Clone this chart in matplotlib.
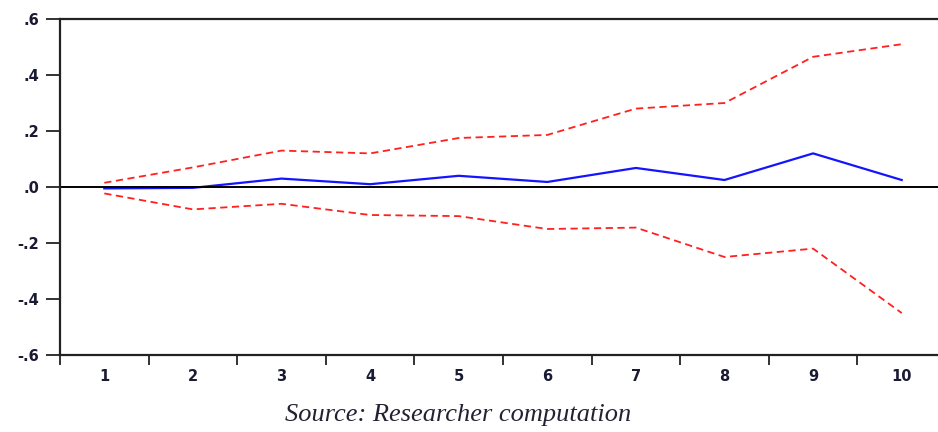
import numpy as np
import matplotlib.pyplot as plt
from matplotlib.ticker import FixedLocator, FuncFormatter

# periods and impulse response with +/- 2 s.e. bands
periods = [1, 2, 3, 4, 5, 6, 7, 8, 9, 10]
response = [-0.005, -0.003, 0.03, 0.01, 0.04, 0.018, 0.068, 0.025, 0.12, 0.025]
upper = [0.015, 0.07, 0.13, 0.12, 0.175, 0.186, 0.28, 0.30, 0.465, 0.51]
lower = [-0.023, -0.08, -0.06, -0.10, -0.104, -0.15, -0.145, -0.25, -0.22, -0.45]
yticks = [-0.6, -0.4, -0.2, 0.0, 0.2, 0.4, 0.6]
caption = "Source: Researcher computation"

fig = plt.figure(figsize=(9.38, 4.32), dpi=100)
# right edge sits just past the image, as in the reference
ax = fig.add_axes([60 / 938, 1 - 355 / 432, 886 / 938, 336 / 432])

ax.plot(periods, upper, color='#ff2020', lw=1.3, ls=(0, (4, 2.5)))
ax.plot(periods, lower, color='#ff2020', lw=1.3, ls=(0, (4, 2.5)))
ax.plot(periods, response, color='#1414ff', lw=1.6)
ax.axhline(0, color='black', lw=1.4)

ax.set_xlim(0.5, 10.5)
ax.set_ylim(-0.6, 0.6)

ax.set_yticks(yticks)
ax.yaxis.set_major_formatter(FuncFormatter(lambda v, p: ('%.1f' % v).replace('0.', '.')))

ax.set_xticks(periods)
ax.xaxis.set_minor_locator(FixedLocator(np.arange(0.5, 10.6, 1)))
ax.tick_params(axis='x', which='major', length=0, pad=10)
ax.tick_params(axis='x', which='minor', length=7, width=1.3, direction='out', color='#222222')
ax.tick_params(axis='y', length=10, width=1.3, direction='out', pad=5, color='#222222')

for lab in ax.get_xticklabels() + ax.get_yticklabels():
    lab.set_fontfamily('DejaVu Sans')
    lab.set_fontweight('bold')
    lab.set_fontsize(10.5)
    lab.set_color('#1a1a33')

for s in ax.spines.values():
    s.set_linewidth(1.6)
    s.set_color('#222222')
ax.spines['right'].set_visible(False)

fig.text(458 / 938, 1 - 415 / 432, caption, ha='center', va='center',
         fontfamily='Liberation Serif', fontstyle='italic', fontsize=19, color='#222233')

fig.savefig('out.png', dpi=100)
